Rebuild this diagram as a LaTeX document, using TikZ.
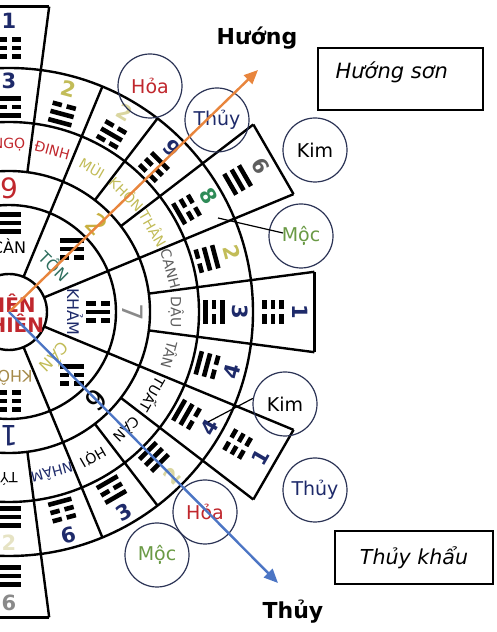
\documentclass[tikz,border=0pt]{standalone}
\usepackage{fontspec}
\setmainfont{DejaVu Sans}
\usetikzlibrary{calc,arrows.meta}

\definecolor{fire}{HTML}{C0272D}
\definecolor{water}{HTML}{1E2A6A}
\definecolor{earth}{HTML}{C2BC58}
\definecolor{earthl}{HTML}{DAD6A0}
\definecolor{earthf}{HTML}{E6E3C4}
\definecolor{ochre}{HTML}{C8B040}
\definecolor{wood}{HTML}{2E8B57}
\definecolor{mocgreen}{HTML}{6A9A45}
\definecolor{teal}{HTML}{2F6F5F}
\definecolor{brownk}{HTML}{A58A4A}
\definecolor{grayname}{HTML}{5E5E5E}
\definecolor{graybig}{HTML}{8A8A8A}
\definecolor{circ}{HTML}{2B3355}
\definecolor{arrowor}{HTML}{E8853D}
\definecolor{arrowbl}{HTML}{4C75C4}

\def\rA{38}
\def\rB{107}
\def\rC{141}
\def\rD{190}
\def\rE{244}
\def\rF{308}

% one line of a trigram: #1 height, #2 = 1 solid / 0 broken
\def\yao#1#2{\ifnum#2=1 \fill (-12,#1-2.3) rectangle (12,#1+2.3);\else
  \fill (-12,#1-2.3) rectangle (-2.5,#1+2.3); \fill (2.5,#1-2.3) rectangle (12,#1+2.3);\fi}
\def\guabars#1#2#3{\yao{8.5}{#1}\yao{0}{#2}\yao{-8.5}{#3}}
\def\gua(#1:#2)[#3]#4{\begin{scope}[shift={($(O)+(#1:#2)$)}, rotate=#3]
  \expandafter\guabars#4\end{scope}}

\tikzset{
  ring/.style={line width=1.2pt},
  mount/.style={font=\fontsize{7}{8}\selectfont, inner sep=0pt},
  gualabel/.style={font=\fontsize{8}{9}\selectfont, inner sep=0pt},
  bigdigit/.style={font=\fontsize{14}{15}\selectfont, inner sep=0pt},
  digit/.style={font=\fontsize{10.5}{12}\selectfont\bfseries, inner sep=0pt},
  elem/.style={circle, draw=circ, line width=0.6pt, minimum size=32pt, inner sep=0pt,
    font=\fontsize{9.5}{11}\selectfont},
  label box/.style={draw, line width=0.8pt, inner sep=0pt},
}

\begin{document}
\begin{tikzpicture}[x=0.5pt, y=0.5pt]
\useasboundingbox (0,0) rectangle (497,632);
\clip (0,0) rectangle (497,632);
\coordinate (O) at (9,320);

%%%%% rings %%%%%
\foreach \r in {\rA,\rB,\rC,\rD,\rE} \draw[ring] (O) circle (\r);
\foreach \a in {22.5,-22.5} \draw[ring] ($(O)+(\a:\rA)$) -- ($(O)+(\a:\rF)$);
\foreach \a in {67.5,-67.5} \draw[ring] ($(O)+(\a:\rA)$) -- ($(O)+(\a:\rE)$);
\foreach \a in {7.5,-7.5,37.5,-37.5,82.5,-82.5} \draw[ring] ($(O)+(\a:\rC)$) -- ($(O)+(\a:\rF)$);
\foreach \a in {52.5,-52.5} \draw[ring] ($(O)+(\a:\rC)$) -- ($(O)+(\a:\rE)$);
\foreach \a/\b in {82.5/97.5,22.5/37.5,-7.5/7.5,-37.5/-22.5,-97.5/-82.5}
  \draw[ring] ($(O)+(\a:\rF)$) -- ($(O)+(\b:\rF)$);

%%%%% centre %%%%%
\node[font=\fontsize{10}{10}\selectfont\bfseries, text=fire, align=center, inner sep=0pt]
  (tien) at ($(O)+(1,-1)$) {TIÊN\\THIÊN};

%%%%% ring 1 : bat quai %%%%%
\foreach \a/\t/\c/\b in {90/CÀN/black/111, 45/TỐN/teal/110, 0/KHẢM/water/010,
    -45/CẤN/earth/100, -90/KHÔN/brownk/000}{
  \node[gualabel, text=\c, rotate=\a-90] (g\a) at ($(O)+(\a:66)$) {\t};
  \gua(\a:89)[0]{\b}
}

%%%%% ring 2 : lac thu %%%%%
\foreach \a/\d/\c in {90/9/fire, 45/2/ochre, 0/7/graybig, -45/6/black, -90/1/water}
  \node[bigdigit, text=\c, rotate=\a-90] (q\a) at ($(O)+(\a:124)$) {\d};

%%%%% ring 3 : 24 son %%%%%
\foreach \a/\t/\c in {90/NGỌ/fire, 75/ĐINH/fire, 60/MÙI/earth, 45/KHÔN/earth, 30/THÂN/earth,
    15/CANH/grayname, 0/DẬU/grayname, -15/TÂN/grayname, -30/TUẤT/black, -45/CÀN/black,
    -60/HỢI/black, -75/NHÂM/water, -90/TÝ/black}
  \node[mount, text=\c, rotate=\a-90] (n\a) at ($(O)+(\a:167)$) {\t};

%%%%% ring 4 %%%%%
\foreach \a/\d/\c/\b/\t in {90/3/water/101/0, 75/2/earth/011/-15, 60/2/earthl/010/-30,
    45/9/water/100/-45, 30/8/wood/001/-60, 15/2/earth/110/-75, 0/3/water/101/-90,
    -15/4/water/011/75, -30/4/water/011/60, -45/2/earthl/111/45, -60/3/water/101/30,
    -75/6/water/001/15, -90/2/earthf/111/0}{
  \gua(\a:205)[\a-90]{\b}
  \node[digit, text=\c, rotate=\t] (s\a) at ($(O)+(\a:231)$) {\d};
}

%%%%% ring 5 boxes %%%%%
\foreach \a/\d/\c/\b/\t in {90/1/water/000/0, 30/6/grayname/111/-60, 0/1/water/000/-90,
    -30/1/water/000/60, -90/6/graybig/111/0}{
  \gua(\a:264)[\a-90]{\b}
  \node[digit, text=\c, rotate=\t] (h\a) at ($(O)+(\a:291)$) {\d};
}

%%%%% elements %%%%%
\node[elem, text=fire] (hoaT) at (150,546) {Hỏa};
\node[elem, text=water] (thuyT) at (217,512) {Thủy};
\node[elem] (kimT) at (315,482) {Kim};
\node[elem, text=mocgreen] (mocR) at (301,396) {Mộc};
\node[elem] (kimB) at (285,228) {Kim};
\node[elem, text=water] (thuyB) at (315,142) {Thủy};
\node[elem, text=fire] (hoaB) at (205,120) {Hỏa};
\node[elem, text=mocgreen] (mocB) at (157,77) {Mộc};

\coordinate (mocend) at (218,414);
\coordinate (kimend) at (208,210);
\draw[line width=0.6pt] (mocend) -- ($(mocR)+(-18,3)$);
\draw[line width=0.6pt] (kimB.170) -- (kimend);

%%%%% labels %%%%%
\node[font=\fontsize{11}{13}\selectfont\bfseries] (huong) at (257,594) {Hướng};
\node[font=\fontsize{11}{13}\selectfont\bfseries] (thuy) at (293,20) {Thủy};
\node[label box, minimum width=82.5pt, minimum height=31pt] (sonbox) at (400.5,553) {};
\node[font=\fontsize{10.5}{12}\selectfont\itshape, anchor=west, inner sep=0pt]
  (sontext) at ($(sonbox.west)+(18,7)$) {Hướng sơn};
\node[label box, minimum width=79pt, minimum height=26.5pt,
  font=\fontsize{10.3}{12}\selectfont\itshape] (khau) at (414,74.5) {Thủy khẩu};

%%%%% huong / thuy lines %%%%%
\coordinate (huongtip) at (258,562);
\coordinate (thuytip) at (278,49);
\draw[arrowor, line width=1.2pt, -{Triangle[length=7pt,width=6pt]}] (O) -- (huongtip);
\draw[arrowbl, line width=1.2pt, -{Triangle[length=7pt,width=6pt]}] (O) -- (thuytip);
\end{tikzpicture}
\end{document}
